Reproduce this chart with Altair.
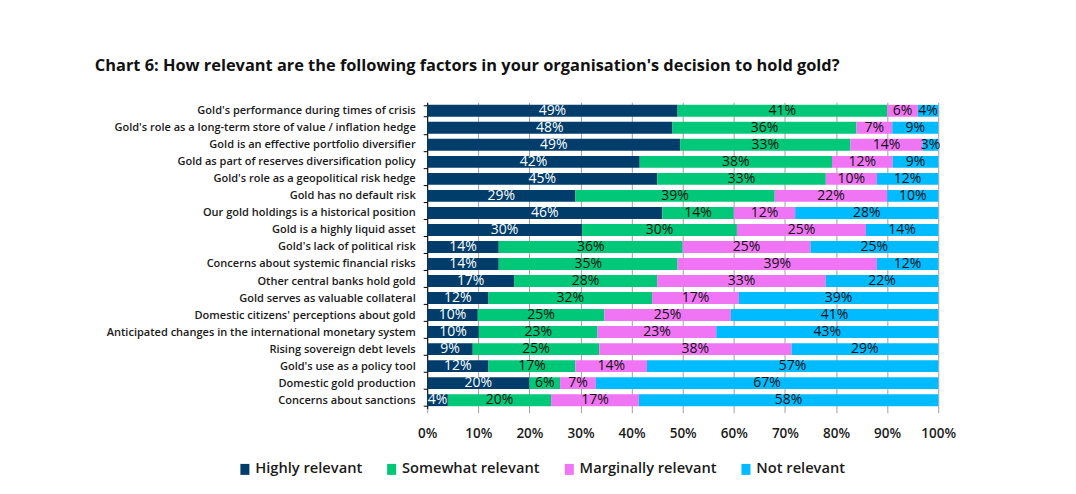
import altair as alt
import pandas as pd

factors = [
    "Gold's performance during times of crisis",
    "Gold's role as a long-term store of value / inflation hedge",
    "Gold is an effective portfolio diversifier",
    "Gold as part of reserves diversification policy",
    "Gold's role as a geopolitical risk hedge",
    "Gold has no default risk",
    "Our gold holdings is a historical position",
    "Gold is a highly liquid asset",
    "Gold's lack of political risk",
    "Concerns about systemic financial risks",
    "Other central banks hold gold",
    "Gold serves as valuable collateral",
    "Domestic citizens' perceptions about gold",
    "Anticipated changes in the international monetary system",
    "Rising sovereign debt levels",
    "Gold's use as a policy tool",
    "Domestic gold production",
    "Concerns about sanctions",
]
highly = [49, 48, 49, 42, 45, 29, 46, 30, 14, 14, 17, 12, 10, 10, 9, 12, 20, 4]
somewhat = [41, 36, 33, 38, 33, 39, 14, 30, 36, 35, 28, 32, 25, 23, 25, 17, 6, 20]
marginal = [6, 7, 14, 12, 10, 22, 12, 25, 25, 39, 33, 17, 25, 23, 38, 14, 7, 17]
notrel = [4, 9, 3, 9, 12, 10, 28, 14, 25, 12, 22, 39, 41, 43, 29, 57, 67, 58]

categories = ["Highly relevant", "Somewhat relevant", "Marginally relevant", "Not relevant"]
colors = ["#003d6b", "#00c878", "#f075f5", "#00bbff"]
x_ticks = [0, 0.1, 0.2, 0.3, 0.4, 0.5, 0.6, 0.7, 0.8, 0.9, 1.0]

rows = []
for i, f in enumerate(factors):
    for k, (cat, series) in enumerate(zip(categories, [highly, somewhat, marginal, notrel])):
        rows.append({"factor": f, "category": cat, "value": series[i], "order": k})
df = pd.DataFrame(rows)

FONT = "Open Sans"

base = alt.Chart(df).transform_stack(
    stack="value",
    groupby=["factor"],
    as_=["v0", "v1"],
    offset="normalize",
    sort=[alt.SortField("order", order="ascending")],
).transform_calculate(
    mid="(datum.v0 + datum.v1) / 2",
    label="datum.value + '%'",
)

y_axis = alt.Axis(
    tickBand="extent",
    domainColor="#000000",
    tickColor="#000000",
    tickSize=4,
    labelPadding=8,
    labelFont=FONT,
    labelFontSize=11.05,
    labelFontWeight=600,
    labelColor="#1a1a1a",
    labelLimit=400,
)
x_axis = alt.Axis(
    format="%",
    values=x_ticks,
    grid=True,
    gridColor="#a0a0a0",
    domain=False,
    tickColor="#a0a0a0",
    tickSize=4,
    labelPadding=14,
    labelFlush=False,
    labelBound=False,
    labelFont=FONT,
    labelFontSize=13.5,
    labelFontWeight=600,
    labelColor="#1a1a1a",
)
y_scale = alt.Scale(paddingInner=0.3, paddingOuter=0.15)
x_scale = alt.Scale(domain=[0, 1])

bars = base.mark_bar().encode(
    y=alt.Y("factor:N", sort=factors, title=None, scale=y_scale, axis=y_axis),
    x=alt.X("v0:Q", title=None, scale=x_scale, axis=x_axis),
    x2="v1:Q",
    color=alt.Color(
        "category:N",
        sort=categories,
        scale=alt.Scale(domain=categories, range=colors),
        legend=alt.Legend(
            title=None,
            orient="none",
            direction="horizontal",
            legendX=-190,
            legendY=360,
            symbolType="M-0.82,-1H0.82V1H-0.82Z",
            symbolSize=121,
            symbolStrokeWidth=0,
            labelFont=FONT,
            labelFontSize=14.7,
            labelFontWeight=600,
            labelColor="#1a1a1a",
            columnPadding=22,
            labelOffset=3,
        ),
    ),
)

labels = base.mark_text(font=FONT, fontSize=14, baseline="middle", align="center").encode(
    y=alt.Y("factor:N", sort=factors, title=None, scale=y_scale, axis=y_axis),
    x=alt.X("mid:Q", title=None, scale=x_scale, axis=x_axis),
    text="label:N",
    color=alt.condition(
        "datum.category == 'Highly relevant'", alt.value("#ffffff"), alt.value("#111111")
    ),
)

chart = alt.layer(bars, labels).properties(
    width=512,
    height=307,
    title=alt.TitleParams(
        "Chart 6: How relevant are the following factors in your organisation's decision to hold gold?",
        anchor="start",
        frame="group",
        dx=-333,
        offset=22,
        font=FONT,
        fontSize=16.4,
        fontWeight="bold",
        color="#111111",
    ),
    autosize=alt.AutoSizeParams(type="none"),
    padding={"left": 420, "top": 94, "right": 130, "bottom": 70},
).configure_view(stroke=None)

chart.save("out.html", embed_options={"renderer": "svg", "actions": False})
